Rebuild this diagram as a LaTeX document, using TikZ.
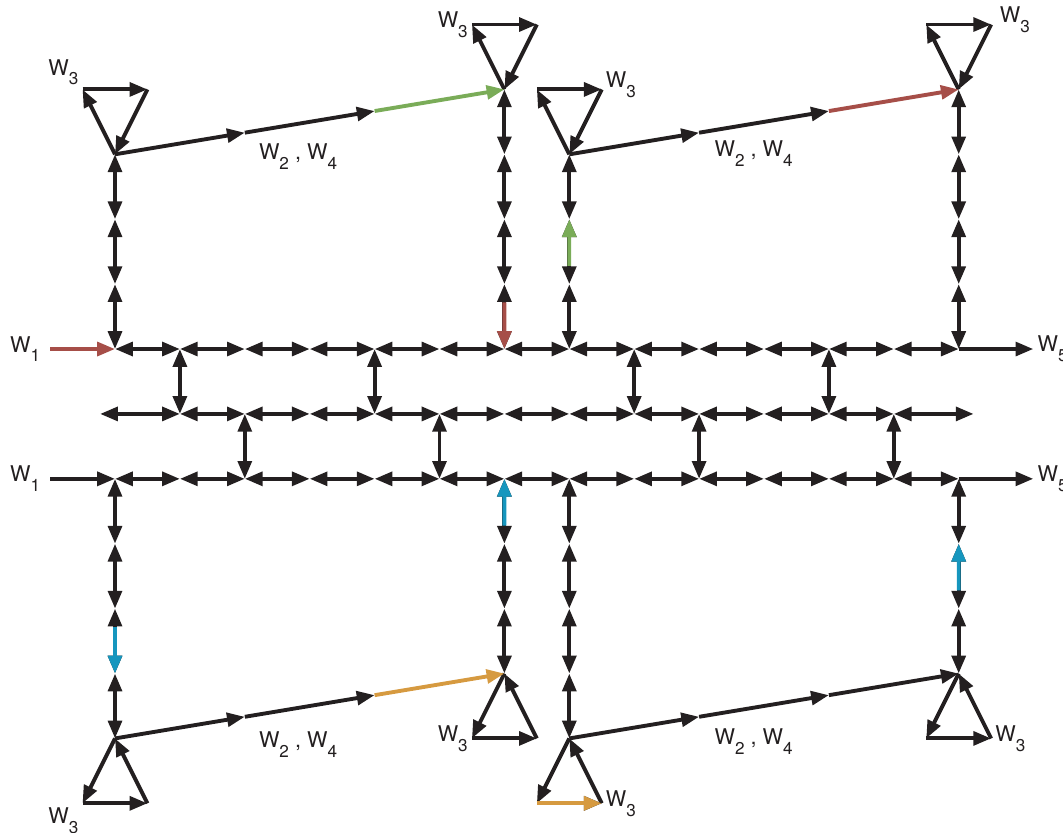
\documentclass[tikz,border=0pt]{standalone}
\usepackage{fontspec}
\setmainfont{TeX Gyre Heros}
\usepackage{tikz}
\usetikzlibrary{arrows.meta,calc}
\definecolor{ink}{HTML}{231F20}
\definecolor{wred}{RGB}{166,78,72}
\definecolor{wgreen}{RGB}{122,172,88}
\definecolor{wblue}{RGB}{22,150,190}
\definecolor{worange}{RGB}{214,154,64}
\newcommand{\wlab}[1]{W\raisebox{-4.3pt}{\fontsize{7.5}{8}\selectfont #1}}

\begin{document}
\begin{tikzpicture}[color=ink, line width=1.7pt,
  >={Triangle[length=7.8pt,width=6pt]},
  lab/.style={font=\fontsize{9.5}{11}\selectfont, inner sep=1pt}]
  \useasboundingbox (-1.772,-7.442) rectangle (14.607,5.378);

  % Grid of the three rows
  \foreach \i in {0,...,13} {
    \coordinate (a\i) at (\i,0);
    \coordinate (b\i) at (\i,-1);
    \coordinate (c\i) at (\i,-2);
  }
  \coordinate (inA) at (-1,0);
  \coordinate (inC) at (-1,-2);
  \coordinate (outA) at (14.15,0);
  \coordinate (outC) at (14.15,-2);
  \coordinate (endL) at (-0.23,-1);
  \coordinate (endR) at (13.23,-1);

  % Rows
  \foreach \i [count=\j] in {0,...,12} {
    \draw[<->] (a\i) -- (a\j);
    \draw[<->] (c\i) -- (c\j);
  }
  \foreach \i [count=\j from 2] in {1,...,11}
    \draw[<->] (b\i) -- (b\j);
  \draw[<->] (endL) -- (b1);
  \draw[<->] (b12) -- (endR);
  \draw[->,wred] (inA) -- (a0);
  \draw[->] (inC) -- (c0);
  \draw[->] (a13) -- (outA);
  \draw[->] (c13) -- (outC);

  % Rungs between rows
  \foreach \i in {1,4,8,11} \draw[<->] (a\i) -- (b\i);
  \foreach \i in {2,5,9,12} \draw[<->] (b\i) -- (c\i);

  % Upper branches
  \foreach \x/\len in {0/3,6/4,7/3,13/4} {
    \coordinate (u\x-0) at (a\x);
    \foreach \k in {1,...,\len} {
      \coordinate (u\x-\k) at (\x,\k);
      \pgfmathtruncatemacro\p{\k-1}
      \draw[<->] (u\x-\p) -- (u\x-\k);
    }
  }

  % Lower branches
  \foreach \x/\len in {0/4,6/3,7/4,13/3} {
    \coordinate (d\x-0) at (c\x);
    \foreach \k in {1,...,\len} {
      \coordinate (d\x-\k) at (\x,-2-\k);
      \pgfmathtruncatemacro\p{\k-1}
      \draw[<->] (d\x-\p) -- (d\x-\k);
    }
  }

  % Loops at the branch ends
  \foreach \t/\s in {u0-3/1,u6-4/1,u7-3/1,u13-4/1,d0-4/-1,d6-3/-1,d7-4/-1,d13-3/-1} {
    \coordinate (\t-l) at ($(\t)+(-0.5,\s)$);
    \coordinate (\t-r) at ($(\t)+(0.5,\s)$);
    \draw[->] (\t) -- (\t-l);
    \draw[->] (\t-l) -- (\t-r);
    \draw[->] (\t-r) -- (\t);
  }

  % Links between branch ends
  \foreach \s/\e/\col/\nm in {u0-3/u6-4/wgreen/p,u7-3/u13-4/wred/q,d0-4/d6-3/worange/r,d7-4/d13-3/ink/s} {
    \coordinate (\nm1) at ($(\s)!1/3!(\e)$);
    \coordinate (\nm2) at ($(\s)!2/3!(\e)$);
    \draw[->] (\s) -- (\nm1);
    \draw[->] (\nm1) -- (\nm2);
    \draw[->,\col] (\nm2) -- (\e);
  }

  % Coloured parts
  \draw[->,wred] ($(u6-1)!0.28!(u6-0)$) -- (u6-0);
  \draw[->,wgreen] ($(u7-1)!0.28!(u7-2)$) -- (u7-2);
  \draw[->,wblue] ($(d0-2)!0.28!(d0-3)$) -- (d0-3);
  \draw[->,wblue] ($(d6-1)!0.28!(d6-0)$) -- (d6-0);
  \draw[->,wblue] ($(d13-2)!0.28!(d13-1)$) -- (d13-1);
  \draw[->,worange] (d7-4-l) -- (d7-4-r);

  % Labels
  \node[lab,anchor=east,xshift=-2.5pt] (w1a) at (inA) {\wlab{1}};
  \node[lab,anchor=east,xshift=-2.5pt] (w1c) at (inC) {\wlab{1}};
  \node[lab,anchor=west] (w5a) at (outA) {\wlab{5}};
  \node[lab,anchor=west] (w5c) at (outC) {\wlab{5}};
  \node[lab,anchor=south east] (w3a) at (u0-3-l) {\wlab{3}};
  \node[lab,anchor=east] (w3b) at (u6-4-l) {\wlab{3}};
  \node[lab,anchor=west,yshift=2pt] (w3c) at (u7-3-r) {\wlab{3}};
  \node[lab,anchor=west,xshift=2pt,yshift=2pt] (w3d) at (u13-4-r) {\wlab{3}};
  \node[lab,anchor=north east] (w3e) at (d0-4-l) {\wlab{3}};
  \node[lab,anchor=east] (w3f) at (d6-3-l) {\wlab{3}};
  \node[lab,anchor=west] (w3g) at (d7-4-r) {\wlab{3}};
  \node[lab,anchor=west] (w3h) at (d13-3-r) {\wlab{3}};
  \node[lab] (w24a) at ($(p1)!0.41!(p2)+(0,-0.5)$) {\wlab{2} , \wlab{4}};
  \node[lab] (w24b) at ($(q1)!0.42!(q2)+(0,-0.46)$) {\wlab{2} , \wlab{4}};
  \node[lab] (w24c) at ($(r1)!0.41!(r2)+(0,-0.56)$) {\wlab{2} , \wlab{4}};
  \node[lab] (w24d) at ($(s1)!0.42!(s2)+(0,-0.52)$) {\wlab{2} , \wlab{4}};
\end{tikzpicture}
\end{document}
